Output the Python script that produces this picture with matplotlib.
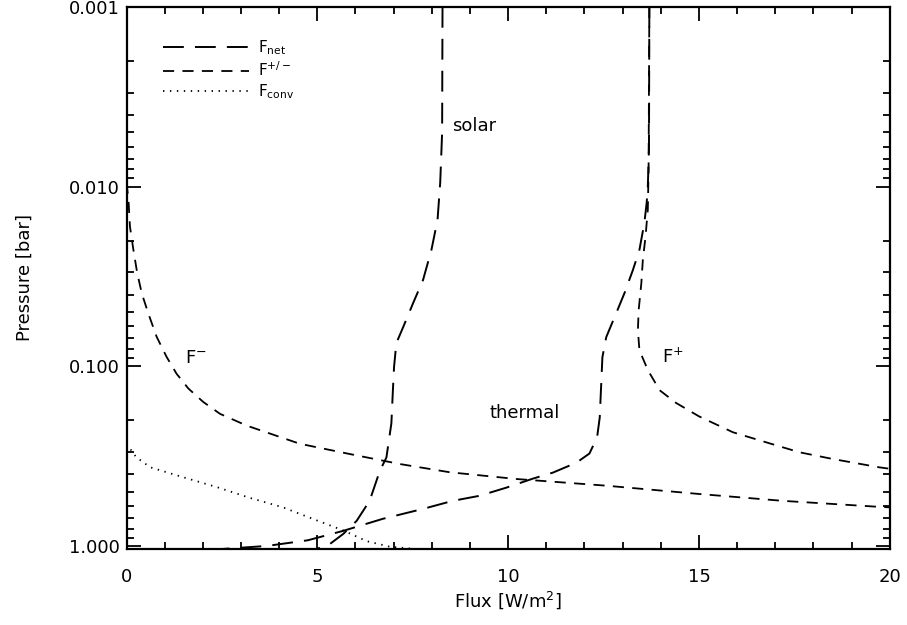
import numpy as np
import matplotlib
matplotlib.use("Agg")
import matplotlib.pyplot as plt

plt.rcParams["lines.scale_dashes"] = False
plt.rcParams["font.family"] = "DejaVu Sans"

# net flux, solar part
solar_x = [8.28, 8.27, 8.22, 8.15, 7.99, 7.77, 7.51, 7.25, 7.07, 7.01, 6.98, 6.94,
           6.81, 6.64, 6.37, 6.03, 5.68, 5.33, 4.98]
solar_p = [0.001, 0.005, 0.0095, 0.0153, 0.0225, 0.0331, 0.0445, 0.0605, 0.0744, 0.101,
           0.136, 0.208, 0.322, 0.381, 0.561, 0.725, 0.857, 0.975, 1.04]

# net flux, thermal part
therm_x = [13.70, 13.69, 13.66, 13.63, 13.57, 13.44, 13.27, 13.05, 12.79, 12.57, 12.47,
           12.44, 12.40, 12.33, 12.13, 11.79, 11.17, 10.65, 9.95, 9.25, 8.55, 7.77,
           6.72, 5.68, 4.75, 3.68, 2.5]
therm_p = [0.001, 0.0062, 0.01, 0.0123, 0.0159, 0.0225, 0.0291, 0.0391, 0.0532, 0.0689,
           0.089, 0.124, 0.193, 0.249, 0.306, 0.344, 0.391, 0.422, 0.474, 0.526, 0.561,
           0.622, 0.706, 0.824, 0.93, 1.0, 1.04]

# upward flux F+
fup_x = [13.70, 13.68, 13.66, 13.60, 13.53, 13.49, 13.42, 13.40, 13.44, 13.66, 13.97,
         14.40, 15.0, 15.89, 16.76, 17.63, 18.50, 19.72, 20.0]
fup_p = [0.001, 0.008, 0.0134, 0.019, 0.0255, 0.0345, 0.0487, 0.063, 0.0814, 0.105,
         0.136, 0.16, 0.19, 0.233, 0.265, 0.301, 0.328, 0.365, 0.372]

# downward flux F-
fdn_x = [0.0, 0.05, 0.09, 0.18, 0.28, 0.40, 0.57, 0.79, 1.05, 1.31, 1.62, 2.01, 2.45,
         3.15, 4.54, 5.85, 7.16, 8.47, 10.21, 12.57, 15.01, 17.19, 19.72, 20.0]
fdn_p = [0.0095, 0.0118, 0.0167, 0.0225, 0.0303, 0.0393, 0.0508, 0.0686, 0.0887, 0.110,
         0.133, 0.158, 0.184, 0.214, 0.270, 0.308, 0.350, 0.389, 0.424, 0.462, 0.514,
         0.561, 0.606, 0.61]

# convective flux
conv_x = [0.0, 0.25, 0.62, 1.49, 2.36, 3.23, 4.10, 4.98, 5.68, 6.29, 6.9, 7.6]
conv_p = [0.27, 0.32, 0.365, 0.415, 0.47, 0.54, 0.61, 0.72, 0.82, 0.94, 1.01, 1.04]

long_dash = (0, (15, 8))
short_dash = (0, (8, 6))
dots = (0, (1, 4))

fig = plt.figure(figsize=(9.07, 6.25), dpi=100)
ax = fig.add_axes([0.1395, 0.1216, 0.8415, 0.8674])

lw = 1.4
ax.plot(solar_x, solar_p, color="k", lw=lw, linestyle=long_dash, label=r"F$_{\rm net}$")
ax.plot(therm_x, therm_p, color="k", lw=lw, linestyle=long_dash)
ax.plot(fup_x, fup_p, color="k", lw=1.3, linestyle=short_dash, label=r"F$^{+/-}$")
ax.plot(fdn_x, fdn_p, color="k", lw=1.3, linestyle=short_dash)
ax.plot(conv_x, conv_p, color="k", lw=1.3, linestyle=dots, label=r"F$_{\rm conv}$")

ax.set_yscale("log")
ax.set_xlim(0, 20)
ax.set_ylim(1.04, 0.001)
ax.set_yticks([0.001, 0.01, 0.1, 1.0])
ax.set_yticklabels(["0.001", "0.010", "0.100", "1.000"])
ax.set_xticks([0, 5, 10, 15, 20])
ax.set_xticks(np.arange(0, 21, 1), minor=True)

ax.tick_params(which="both", direction="in", top=True, right=True, labelsize=13, width=1.3)
ax.tick_params(which="major", length=10)
ax.tick_params(which="minor", length=5)
ax.tick_params(axis="x", which="major", pad=14)
ax.tick_params(axis="y", which="major", pad=5)
for s in ax.spines.values():
    s.set_linewidth(1.6)

ax.set_xlabel(r"Flux [W/m$^2$]", fontsize=13, labelpad=2)
ax.set_ylabel("Pressure [bar]", fontsize=13)
ax.yaxis.set_label_coords(-0.122, 0.5)

ax.text(8.52, 0.0046, "solar", fontsize=13, va="center")
ax.text(9.52, 0.183, "thermal", fontsize=13, va="center")
ax.text(1.53, 0.09, r"F$^{-}$", fontsize=13, va="center")
ax.text(14.02, 0.089, r"F$^{+}$", fontsize=13, va="center")

ax.legend(loc="upper left", bbox_to_anchor=(0.03, 0.967), frameon=False, fontsize=11,
          handlelength=5.6, labelspacing=0.2, handletextpad=0.6)

fig.savefig("out.png", dpi=100)
